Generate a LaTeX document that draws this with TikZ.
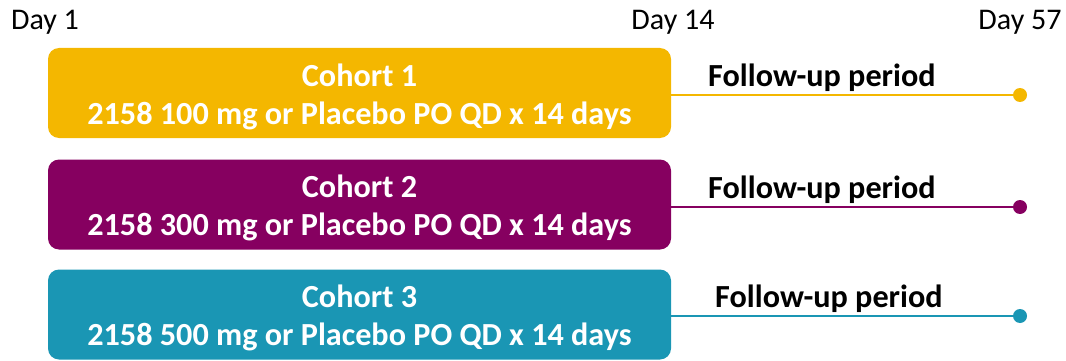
\documentclass[tikz,border=0pt]{standalone}
\usepackage{fontspec}
\setmainfont{Carlito}
\definecolor{cyel}{RGB}{244,183,0}
\definecolor{cpur}{RGB}{134,0,96}
\definecolor{cteal}{RGB}{26,150,180}
\begin{document}
\begin{tikzpicture}[x=1pt,y=-1pt,
  cohort/.style={rounded corners=11pt, minimum width=623pt, minimum height=90pt, inner sep=0pt,
    text=white, font=\fontsize{32.2}{38}\selectfont\bfseries, align=center},
  daylabel/.style={anchor=base, inner sep=0pt, font=\fontsize{30}{36}\selectfont},
  fu/.style={anchor=base west, inner sep=0pt, font=\fontsize{32.2}{38}\selectfont\bfseries},
  endpt/.style={circle, minimum size=14pt, inner sep=0pt},
  tl/.style={line width=2.5pt}]
\useasboundingbox (0,0) rectangle (1066,361);
\node[daylabel] (d1) at (45,30) {Day 1};
\node[daylabel] (d14) at (673,30) {Day 14};
\node[daylabel] (d57) at (1020,30) {Day 57};

\node[cohort, fill=cyel] (c1) at (359.5,93) {};
\node[cohort, fill=cpur] (c2) at (359.5,204.5) {};
\node[cohort, fill=cteal] (c3) at (359.5,314.5) {};
\node[cohort, draw=none, minimum height=0pt] (t1) at ([yshift=-3.5pt]c1.center) {Cohort 1\\2158 100 mg or Placebo PO QD x 14 days};
\node[cohort, draw=none, minimum height=0pt] (t2) at ([yshift=-3.5pt]c2.center) {Cohort 2\\2158 300 mg or Placebo PO QD x 14 days};
\node[cohort, draw=none, minimum height=0pt] (t3) at ([yshift=-3.5pt]c3.center) {Cohort 3\\2158 500 mg or Placebo PO QD x 14 days};

\node[endpt, fill=cyel] (e1) at (1020,95) {};
\node[endpt, fill=cpur] (e2) at (1020,207) {};
\node[endpt, fill=cteal] (e3) at (1020,316) {};

\draw[tl, cyel] (e1.center) -- (e1.center -| c1.east);
\draw[tl, cpur] (e2.center) -- (e2.center -| c2.east);
\draw[tl, cteal] (e3.center) -- (e3.center -| c3.east);

\node[fu] (f1) at (708,86) {Follow-up period};
\node[fu] (f2) at (708,198) {Follow-up period};
\node[fu] (f3) at (715,307) {Follow-up period};
\end{tikzpicture}
\end{document}
